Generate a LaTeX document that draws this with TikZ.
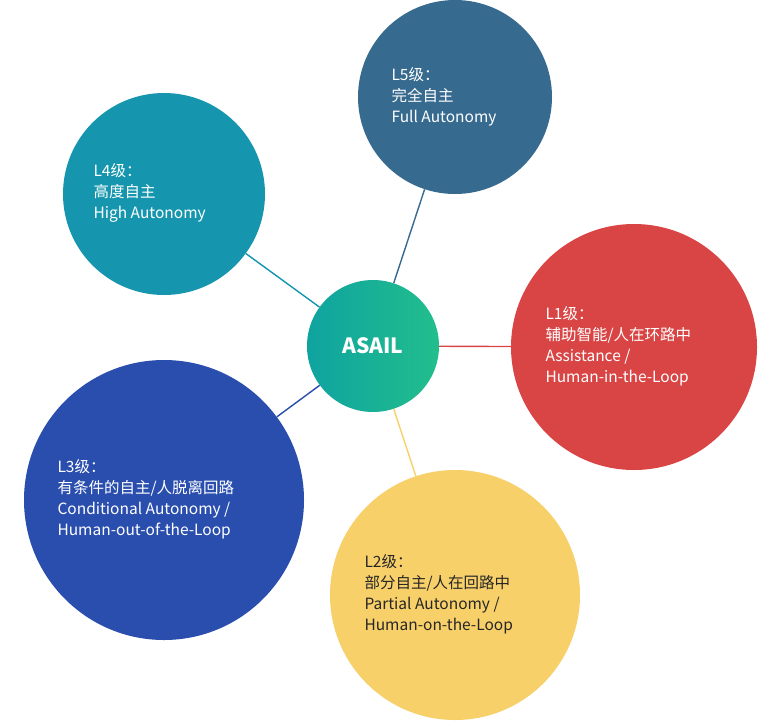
\documentclass[tikz,border=0pt]{standalone}
\usepackage{fontspec}
\setmainfont{Noto Sans CJK SC}
\usetikzlibrary{shadings}
\definecolor{cL5}{HTML}{376A8F}
\definecolor{cL4}{HTML}{1596AE}
\definecolor{cL1}{HTML}{D94545}
\definecolor{cL3}{HTML}{2A4EAE}
\definecolor{cL2}{HTML}{F8D06A}
\definecolor{cA}{HTML}{0FA3A0}
\definecolor{cB}{HTML}{22BE8C}
\tikzset{
 bub/.style={circle,inner sep=0pt,text=white,font=\fontsize{15}{18}\selectfont},
 lbl/.style={align=left,anchor=west,font=\fontsize{15.5}{21}\selectfont},
 link/.style={line width=1.4pt}
}
\begin{document}
\begin{tikzpicture}[x=1pt,y=-1pt]
\useasboundingbox[fill=white] (0,0) rectangle (784,726);
\node[bub,fill=cL5,minimum size=194pt] (l5) at (455,97) {};
\node[bub,fill=cL4,minimum size=202pt] (l4) at (164,194) {};
\node[bub,fill=cL1,minimum size=246pt] (l1) at (634,347) {};
\node[bub,fill=cL3,minimum size=280pt] (l3) at (164,500) {};
\node[bub,fill=cL2,minimum size=250pt] (l2) at (455,595) {};
\node[circle,minimum size=132pt,inner sep=0pt,left color=cA,right color=cB] (c) at (373,346) {};
\begin{scope}[on background layer/.style={}]
\end{scope}
\draw[link,cL5] (c) -- (l5);
\draw[link,cL4] (c) -- (l4);
\draw[link,cL1] (c) -- (l1);
\draw[link,cL3] (c) -- (l3);
\draw[link,cL2] (c) -- (l2);
\node[text=white,font=\fontsize{21}{24}\bfseries\selectfont] (ct) at (373,346) {ASAIL};
\node[lbl,text=white] (t5) at (388,97) {L5级：\\完全自主\\Full Autonomy};
\node[lbl,text=white] (t4) at (90,193) {L4级：\\高度自主\\High Autonomy};
\node[lbl,text=white] (t1) at (542,346) {L1级：\\辅助智能/人在环路中\\Assistance /\\Human-in-the-Loop};
\node[lbl,text=white] (t3) at (54,499) {L3级：\\有条件的自主/人脱离回路\\Conditional Autonomy /\\Human-out-of-the-Loop};
\node[lbl,text=black!85] (t2) at (361,594) {L2级：\\部分自主/人在回路中\\Partial Autonomy /\\Human-on-the-Loop};
\end{tikzpicture}
\end{document}
